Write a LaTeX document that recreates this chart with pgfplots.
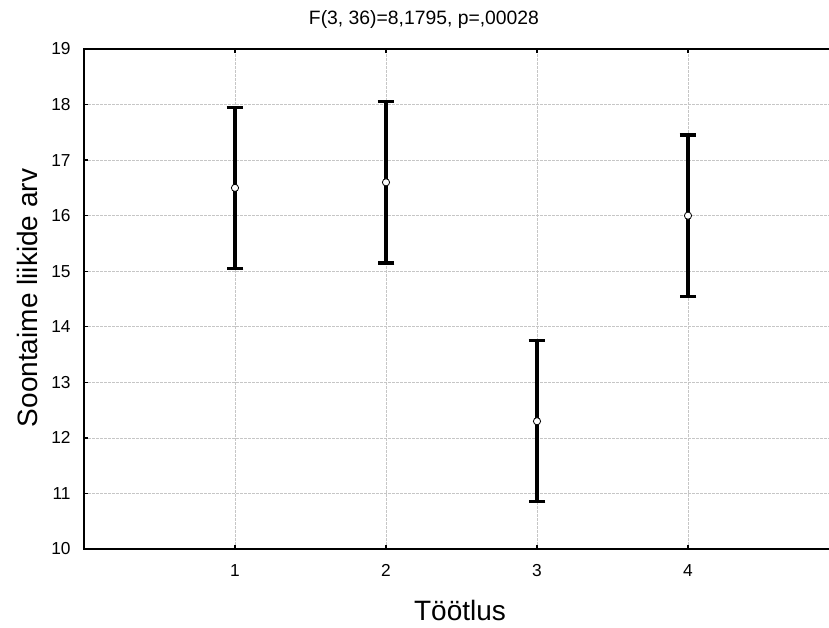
\documentclass[border=0pt]{standalone}
\usepackage{pgfplots}
\pgfplotsset{compat=1.18}
\usepackage{fontspec}
\setmainfont{Liberation Sans}
\begin{document}
\begin{tikzpicture}
\begin{axis}[
  at={(63pt,59.25pt)}, anchor=south west,
  scale only axis,
  width=566.25pt, height=375pt,
  xmin=0, xmax=5, ymin=10, ymax=19,
  xtick={1,2,3,4}, ytick={10,11,...,19},
  /pgf/number format/assume math mode=true,
  axis line style={line width=1.3pt},
  major tick length=3pt,
  tick style={black, line width=1pt},
  grid=major,
  major grid style={gray!45, dash pattern=on 2pt off 1pt, line width=0.5pt},
  xticklabel style={font=\fontsize{13}{15}\selectfont, yshift=-8pt},
  yticklabel style={font=\fontsize{13}{15}\selectfont, xshift=-6.5pt},
  clip=false,
]
\addplot[
  only marks,
  mark=*,
  mark size=2.7pt,
  mark options={fill=white, draw=black, line width=0.6pt},
  error bars/.cd,
    y dir=both, y explicit,
    error mark=-,
    error bar style={line width=3pt, black},
    error mark options={rotate=90, line width=2.5pt, mark size=6.3pt, black},
] coordinates {
  (1,16.50) +- (0,1.45)
  (2,16.60) +- (0,1.45)
  (3,12.30) +- (0,1.45)
  (4,16.00) +- (0,1.45)
};
\end{axis}
\node[font=\fontsize{14.5}{17}\selectfont] at (318pt,456pt) {F(3, 36)=8,1795, p=,00028};
\node[font=\fontsize{21}{25}\selectfont] at (345pt,13.5pt) {Töötlus};
\node[font=\fontsize{21}{25}\selectfont, rotate=90] at (20.25pt,247.5pt) {Soontaime liikide arv};
\pgfresetboundingbox
\useasboundingbox (0,0) rectangle (621.75pt,471pt);
\end{tikzpicture}
\end{document}
